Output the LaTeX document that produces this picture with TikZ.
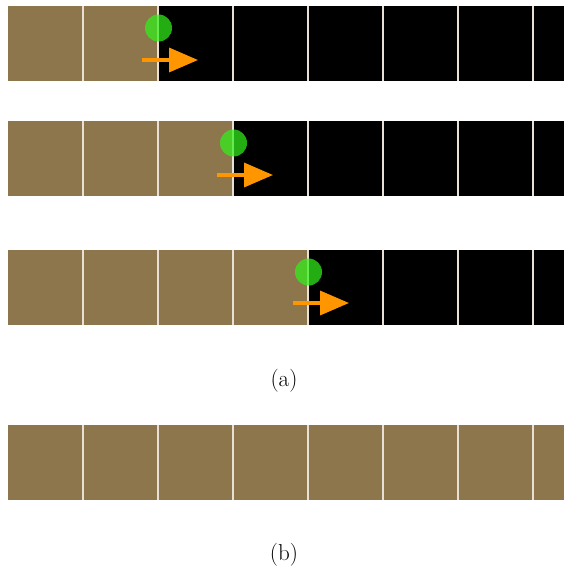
\documentclass[tikz,border=0pt]{standalone}
\usetikzlibrary{arrows.meta}
\definecolor{soil}{RGB}{141,117,76}
\definecolor{seam}{RGB}{232,224,212}
\definecolor{bead}{RGB}{50,240,25}
\definecolor{push}{RGB}{255,150,0}
\tikzset{
  cell/.style={fill=soil, draw=none},
  void/.style={fill=black, draw=none},
  seamline/.style={draw=seam, line width=2.4pt},
  bead/.style={fill=bead, fill opacity=0.72, draw=none},
  pusher/.style={draw=push, line width=3.5pt,
    -{Triangle[length=29pt,width=24pt]}},
  caption/.style={font=\fontsize{23}{28}\selectfont}
}
\begin{document}
\begin{tikzpicture}[x=1pt,y=-1pt]
\useasboundingbox (0,0) rectangle (564,573);
% one strip: #1 top edge, #2 right end of the filled part
\newcommand\strip[2]{%
  \fill[void] (8,#1) rectangle (564,#1+75);
  \fill[cell] (8,#1) rectangle (#2,#1+75);
  \foreach \k in {1,...,7}
    \draw[seamline] (8+75*\k,#1) -- (8+75*\k,#1+75);
}
\strip{6}{158}
\strip{121}{233}
\strip{250}{308}
\strip{425}{564}
% front markers
\fill[bead] (158.5,28) circle (13.5);
\draw[pusher] (142,60) -- (198,60);
\fill[bead] (233.5,143) circle (13.5);
\draw[pusher] (217,175) -- (273,175);
\fill[bead] (308.5,272) circle (13.5);
\draw[pusher] (293,303) -- (349,303);
\node[caption] (capa) at (284,381) {(a)};
\node[caption] (capb) at (284,555) {(b)};
\end{tikzpicture}
\end{document}
